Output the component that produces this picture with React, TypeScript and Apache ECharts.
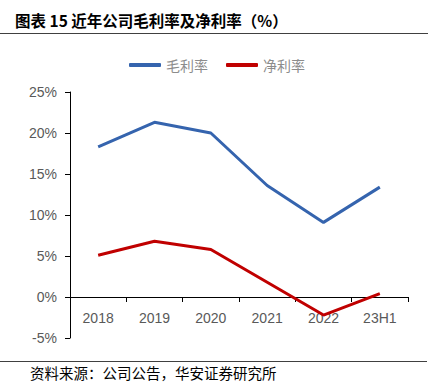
import React, { useEffect, useRef } from "react";
import * as echarts from "echarts";

const categories = ["2018", "2019", "2020", "2021", "2022", "23H1"];
const grossMargin = [18.3, 21.3, 20.0, 13.6, 9.1, 13.4];
const netMargin = [5.1, 6.8, 5.8, 1.8, -2.2, 0.4];
const seriesNames = ["毛利率", "净利率"];
const titleText = "图表 15 近年公司毛利率及净利率（%）";
const sourceText = "资料来源：公司公告，华安证券研究所";

export default function App() {
  const ref = useRef<HTMLDivElement>(null);
  useEffect(() => {
    if (!ref.current) return;
    const chart = echarts.init(ref.current, undefined, { renderer: "svg" });
    const cjk = '"Noto Sans CJK SC", sans-serif';
    const latin = '"Liberation Sans", Arial, sans-serif';
    chart.setOption({
      animation: false,
      backgroundColor: "#ffffff",
      grid: { left: 70, right: 26, top: 92, bottom: 46, containLabel: false },
      legend: {
        top: 53,
        left: "center",
        itemWidth: 32,
        itemHeight: 4,
        itemGap: 18,
        icon: "roundRect",
        textStyle: { color: "#8c8c8c", fontSize: 14, fontFamily: cjk },
        data: seriesNames,
      },
      xAxis: {
        type: "category",
        data: categories,
        boundaryGap: true,
        offset: -41,
        axisLine: { onZero: false, lineStyle: { color: "#000000", width: 1 } },
        axisTick: { show: true, length: 5, alignWithLabel: false, lineStyle: { color: "#000000" } },
        axisLabel: { color: "#595959", fontSize: 14, fontFamily: latin, margin: 14 },
        splitLine: { show: false },
        z: 1,
      },
      yAxis: {
        type: "value",
        min: -5,
        max: 25,
        interval: 5,
        axisLine: { show: true, lineStyle: { color: "#000000", width: 1 } },
        axisTick: { show: true, length: 5, lineStyle: { color: "#000000" } },
        axisLabel: {
          color: "#595959",
          fontSize: 14,
          fontFamily: latin,
          margin: 13,
          formatter: (v: number) => `${v}%`,
        },
        splitLine: { show: false },
      },
      series: [
        {
          name: seriesNames[0],
          type: "line",
          data: grossMargin,
          symbol: "none",
          z: 3,
          lineStyle: { color: "#3564AE", width: 3 },
          itemStyle: { color: "#3564AE" },
        },
        {
          name: seriesNames[1],
          type: "line",
          data: netMargin,
          symbol: "none",
          z: 3,
          lineStyle: { color: "#C00000", width: 3 },
          itemStyle: { color: "#C00000" },
        },
      ],
      graphic: [
        {
          type: "text",
          left: 15,
          top: 12,
          style: {
            text: titleText,
            fill: "#000000",
            font: `bold 15.5px ${cjk}`,
          },
        },
        {
          type: "line",
          shape: { x1: 0, y1: 33.5, x2: 428, y2: 33.5 },
          style: { stroke: "#404040", lineWidth: 1 },
        },
        {
          type: "line",
          shape: { x1: 0, y1: 361.5, x2: 427, y2: 361.5 },
          style: { stroke: "#404040", lineWidth: 1 },
        },
        {
          type: "text",
          left: 30,
          top: 365,
          style: {
            text: sourceText,
            fill: "#000000",
            font: `14.5px ${cjk}`,
          },
        },
      ],
    });
    return () => chart.dispose();
  }, []);
  return (
    <div
      ref={ref}
      style={{ position: "fixed", left: 0, top: 0, width: 434, height: 384 }}
    />
  );
}
